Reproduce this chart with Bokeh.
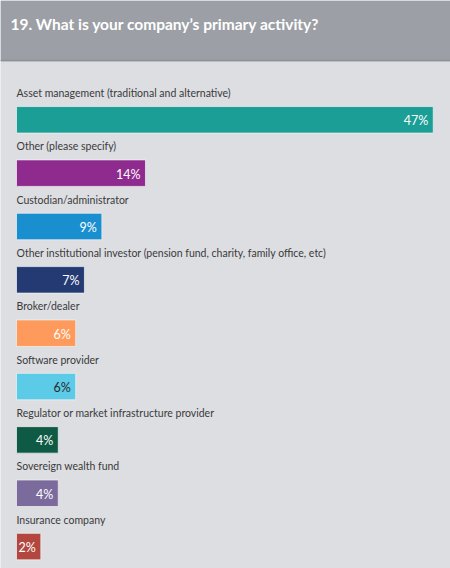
from bokeh.plotting import figure
from bokeh.models import Range1d, BoxAnnotation, ColumnDataSource
from bokeh.core.properties import value
from bokeh.embed import file_html
from bokeh.resources import INLINE

categories = [
    "Asset management (traditional and alternative)",
    "Other (please specify)",
    "Custodian/administrator",
    "Other institutional investor (pension fund, charity, family office, etc)",
    "Broker/dealer",
    "Software provider",
    "Regulator or market infrastructure provider",
    "Sovereign wealth fund",
    "Insurance company",
]
values = [47, 14, 9, 7, 6, 6, 4, 4, 2]
colors = ["#1a9e96", "#8f2a8f", "#1a8fd0", "#233a72", "#fd9a5c",
          "#5ccbe8", "#0f5a44", "#7b6b9c", "#b2473f"]
value_text_colors = ["white", "white", "white", "white", "white",
                     "#2a2a2a", "white", "white", "white"]
title_text = "19. What is your company\u2019s primary activity?"

W, H = 450, 568
Y0, STEP = 119.3, 53.35      # pixel centre of first bar, pixel spacing
X0, XS = 16.0, 8.72          # pixel where bars start, pixels per percent
STUB = 0.79                  # small base stub the bars start from (in %)
FONT = "Lato"

p = figure(width=W, height=H, output_backend="svg", toolbar_location=None,
           x_range=Range1d(-STUB - X0 / XS, -STUB + (W - X0) / XS),
           y_range=Range1d((H - Y0) / STEP, -Y0 / STEP),
           min_border=0, tools="")
p.axis.visible = False
p.grid.visible = False
p.outline_line_color = None
p.background_fill_color = "#dddee2"
p.border_fill_color = "#dddee2"

# header band
hb = (60.7 - Y0) / STEP
p.add_layout(BoxAnnotation(bottom=hb, fill_color="#9c9fa6", fill_alpha=1,
                           line_color=None, level="underlay"))
p.add_layout(BoxAnnotation(bottom=hb, top=hb - 1.5 / STEP, fill_color="#8d9097",
                           fill_alpha=1, line_color=None, level="underlay"))
p.text(x=[-STUB - X0 / XS], y=[-Y0 / STEP], text=[title_text],
       text_color="white", text_font=value(FONT), text_font_size="15.5px",
       text_font_style="bold", text_baseline="middle",
       x_offset=10, y_offset=23)

idx = list(range(len(categories)))
src = ColumnDataSource(dict(y=idx, v=values, c=colors, cat=categories,
                            lab=[f"{v}%" for v in values], tc=value_text_colors))

p.hbar(y="y", left=-STUB, right="v", height=26.5 / STEP, fill_color="c",
       line_color="#f2f2f4", line_alpha=0.7, line_width=1, source=src)

p.text(x=-STUB, y="y", text="cat", source=src, text_color="#3a3a3a",
       text_font=value(FONT), text_font_size="10.5px",
       text_baseline="middle", y_offset=-27)

p.text(x="v", y="y", text="lab", source=src, text_color="tc",
       text_font=value(FONT), text_font_size="12.5px", text_align="right",
       text_baseline="middle", x_offset=-5, y_offset=1)

open("out.html", "w").write(file_html(p, INLINE))
